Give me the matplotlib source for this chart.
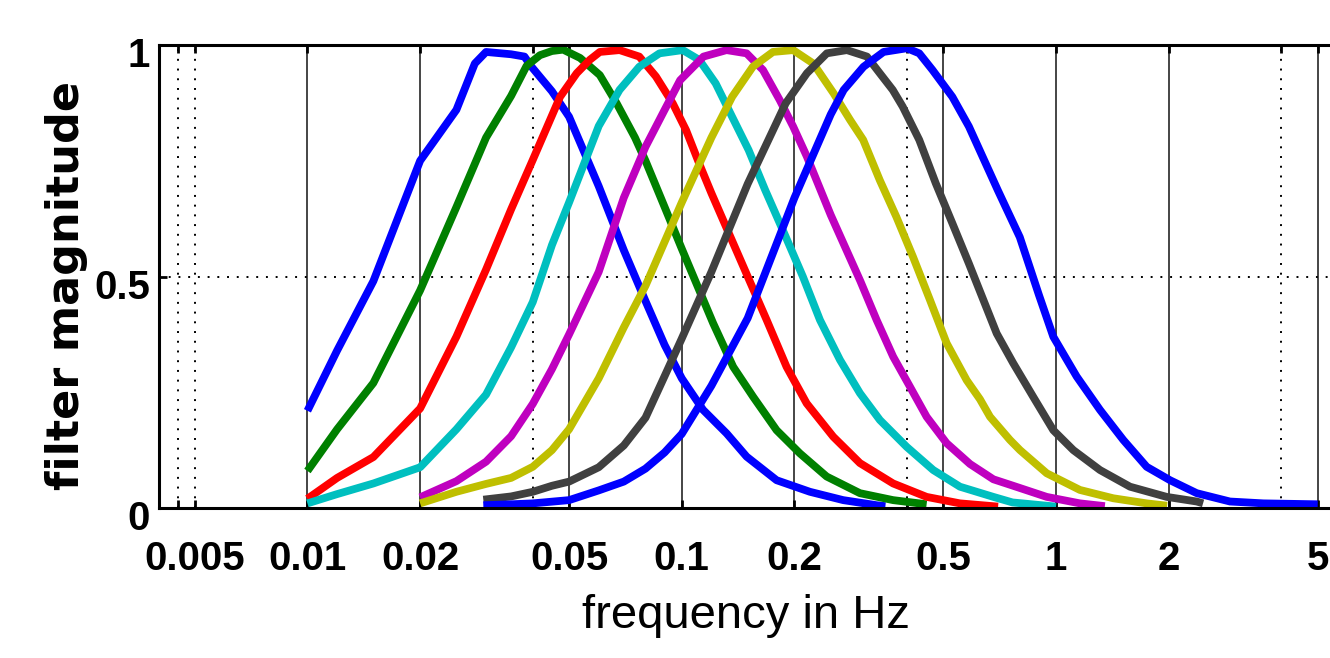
import matplotlib
matplotlib.use("Agg")
import matplotlib.pyplot as plt
from matplotlib.transforms import ScaledTranslation

# filter bank magnitudes
freq_b1 = [0.01, 0.012, 0.015, 0.02, 0.025, 0.028, 0.03, 0.035, 0.038, 0.0395, 0.045, 0.05,
           0.06, 0.07, 0.08, 0.09, 0.1, 0.114, 0.1318, 0.149, 0.1792, 0.22, 0.27, 0.3316, 0.35]
mag_b1 = [0.21, 0.34, 0.49, 0.75, 0.86, 0.96, 0.985, 0.98, 0.975, 0.955, 0.90, 0.845,
          0.695, 0.557, 0.447, 0.352, 0.28, 0.212, 0.161, 0.111, 0.06, 0.035, 0.017, 0.006, 0.004]

freq_g = [0.01, 0.012, 0.015, 0.02, 0.025, 0.03, 0.035, 0.0385, 0.0418, 0.045, 0.0482, 0.0535,
          0.0604, 0.067, 0.075, 0.08, 0.09, 0.1, 0.1213, 0.1372, 0.1552, 0.1792, 0.2068, 0.2438,
          0.2992, 0.367, 0.451]
mag_g = [0.08, 0.17, 0.27, 0.47, 0.65, 0.80, 0.89, 0.955, 0.978, 0.987, 0.99, 0.972,
         0.935, 0.874, 0.80, 0.75, 0.65, 0.56, 0.399, 0.305, 0.24, 0.168, 0.118, 0.068,
         0.032, 0.017, 0.008]

freq_r = [0.01, 0.012, 0.015, 0.02, 0.025, 0.03, 0.035, 0.04, 0.0473, 0.0524, 0.0568, 0.0604,
          0.0682, 0.077, 0.0853, 0.0946, 0.1027, 0.1113, 0.12, 0.15, 0.1686, 0.1905, 0.2156,
          0.2539, 0.2992, 0.367, 0.451, 0.5536, 0.7]
mag_r = [0.02, 0.065, 0.11, 0.215, 0.37, 0.515, 0.645, 0.752, 0.888, 0.939, 0.968, 0.985,
         0.989, 0.975, 0.932, 0.874, 0.816, 0.744, 0.68, 0.50, 0.406, 0.305, 0.226,
         0.154, 0.097, 0.053, 0.024, 0.01, 0.003]

freq_c = [0.01, 0.012, 0.015, 0.02, 0.025, 0.03, 0.035, 0.04, 0.045, 0.05, 0.06, 0.0682,
          0.077, 0.0872, 0.1006, 0.1113, 0.1232, 0.1363, 0.1509, 0.167, 0.1895, 0.2106, 0.234,
          0.2646, 0.2992, 0.3383, 0.399, 0.4697, 0.5536, 0.68, 0.765, 1.0]
mag_c = [0.01, 0.03, 0.053, 0.088, 0.17, 0.245, 0.347, 0.445, 0.568, 0.66, 0.825, 0.903,
         0.953, 0.982, 0.989, 0.968, 0.917, 0.845, 0.773, 0.687, 0.586, 0.50, 0.406,
         0.32, 0.248, 0.19, 0.132, 0.082, 0.046, 0.024, 0.012, 0.003]

freq_m = [0.02, 0.025, 0.03, 0.035, 0.04, 0.045, 0.05, 0.06, 0.07, 0.08, 0.09, 0.099,
          0.1143, 0.1317, 0.149, 0.1648, 0.1827, 0.1984, 0.2159, 0.25, 0.3, 0.3316, 0.367,
          0.407, 0.451, 0.51, 0.589, 0.68, 0.768, 0.944, 1.158, 1.35]
mag_m = [0.023, 0.058, 0.10, 0.155, 0.225, 0.30, 0.375, 0.51, 0.67, 0.78, 0.86, 0.924,
         0.975, 0.989, 0.982, 0.946, 0.881, 0.824, 0.759, 0.633, 0.49, 0.406, 0.327,
         0.262, 0.197, 0.14, 0.095, 0.062, 0.048, 0.024, 0.01, 0.004]

freq_y = [0.02, 0.025, 0.03, 0.035, 0.04, 0.045, 0.05, 0.06, 0.07, 0.08, 0.09, 0.1,
          0.12, 0.1363, 0.1548, 0.1752, 0.1984, 0.2246, 0.2543, 0.2817, 0.3053, 0.3381, 0.3743,
          0.4145, 0.46, 0.51, 0.577, 0.626, 0.666, 0.753, 0.801, 0.944, 1.158, 1.422, 1.746, 1.98]
mag_y = [0.01, 0.035, 0.052, 0.065, 0.089, 0.125, 0.17, 0.28, 0.39, 0.48, 0.575, 0.66,
         0.80, 0.888, 0.953, 0.985, 0.989, 0.96, 0.896, 0.838, 0.795, 0.708, 0.629,
         0.543, 0.45, 0.356, 0.276, 0.235, 0.197, 0.147, 0.125, 0.075, 0.039, 0.021, 0.01, 0.005]

freq_k = [0.0295, 0.035, 0.04, 0.045, 0.05, 0.06, 0.07, 0.08, 0.09, 0.1, 0.12, 0.15,
          0.1895, 0.2159, 0.2441, 0.2762, 0.3124, 0.3381, 0.3661, 0.3892, 0.431, 0.4772, 0.5283,
          0.5849, 0.694, 0.768, 0.869, 0.983, 1.112, 1.31, 1.576, 1.975, 2.376, 2.47]
mag_k = [0.018, 0.025, 0.035, 0.048, 0.057, 0.088, 0.135, 0.195, 0.285, 0.366, 0.51, 0.70,
         0.874, 0.939, 0.982, 0.989, 0.975, 0.939, 0.903, 0.867, 0.795, 0.701, 0.615,
         0.528, 0.377, 0.313, 0.24, 0.168, 0.125, 0.082, 0.046, 0.024, 0.014, 0.01]

freq_b2 = [0.0295, 0.035, 0.04, 0.05, 0.06, 0.07, 0.08, 0.09, 0.1, 0.12, 0.15, 0.2,
           0.25, 0.2708, 0.3059, 0.346, 0.3995, 0.431, 0.4676, 0.5283, 0.5849, 0.7,
           0.8, 0.9, 0.983, 1.135, 1.31, 1.512, 1.746, 2.016, 2.376, 2.915, 3.58, 5.0]
mag_b2 = [0.006, 0.008, 0.01, 0.017, 0.038, 0.057, 0.085, 0.12, 0.16, 0.264, 0.41, 0.67,
          0.85, 0.903, 0.953, 0.985, 0.993, 0.982, 0.946, 0.888, 0.824, 0.685,
          0.585, 0.46, 0.37, 0.284, 0.212, 0.147, 0.089, 0.06, 0.032, 0.014, 0.01, 0.008]

curves = [
    (freq_b1, mag_b1, (0, 0, 1)),
    (freq_g, mag_g, (0, 0.5, 0)),
    (freq_r, mag_r, (1, 0, 0)),
    (freq_c, mag_c, (0, 0.75, 0.75)),
    (freq_m, mag_m, (0.75, 0, 0.75)),
    (freq_y, mag_y, (0.75, 0.75, 0)),
    (freq_k, mag_k, (0.25, 0.25, 0.25)),
    (freq_b2, mag_b2, (0, 0, 1)),
]

solid_lines = [0.01, 0.02, 0.05, 0.1, 0.2, 0.5, 1, 2, 5]
dotted_lines = [0.0045, 0.005, 0.04, 0.4, 4]
xtick_vals = [0.005, 0.01, 0.02, 0.05, 0.1, 0.2, 0.5, 1, 2, 5]
xtick_text = ['0.005', '0.01', '0.02', '0.05', '0.1', '0.2', '0.5', '1', '2', '5']
ytick_vals = [0, 0.5, 1]
ytick_text = ['0', '0.5', '1']

sans = ['Liberation Sans', 'DejaVu Sans']

fig = plt.figure(figsize=(13.3, 6.58), dpi=100)
ax = fig.add_axes([158.5 / 1330, 150 / 658, (1333.2 - 158.5) / 1330, 463 / 658])

for xv in solid_lines:
    ax.axvline(xv, color=(0.15, 0.15, 0.15), lw=1.2, zorder=1)
for xv in dotted_lines:
    ax.axvline(xv, color='black', lw=1.4, ls=(0, (1, 4)), zorder=1)
ax.axhline(0.5, color='black', lw=1.4, ls=(0, (1, 4)), zorder=1)

for fr, mg, col in curves:
    ax.plot(fr, mg, color=col, lw=5.6, zorder=3, solid_capstyle='butt', solid_joinstyle='round')

ax.set_xscale('log')
ax.set_xlim(0.004, 5.5)
ax.set_ylim(0, 1)

ax.set_xticks(xtick_vals + [0.0045, 0.04, 0.4, 4])
ax.set_xticklabels(xtick_text + ['', '', '', ''])
ax.xaxis.set_minor_locator(matplotlib.ticker.NullLocator())
ax.set_yticks(ytick_vals)
ax.set_yticklabels(ytick_text)

ax.tick_params(axis='both', direction='in', length=6, width=2, top=True, right=False)
ax.tick_params(axis='x', pad=23)
ax.tick_params(axis='y', pad=6)
for lab in ax.get_xticklabels() + ax.get_yticklabels():
    lab.set_family(sans)
    lab.set_fontweight('bold')
    lab.set_fontsize(29)
for lab in ax.get_yticklabels():
    lab.set_transform(lab.get_transform() + ScaledTranslation(0, -0.07, fig.dpi_scale_trans))

for side in ['top', 'bottom', 'left', 'right']:
    ax.spines[side].set_linewidth(2.2)
    ax.spines[side].set_zorder(5)

ax.set_xlabel('frequency in Hz', family=sans, fontsize=34)
ax.xaxis.set_label_coords(0.5, -0.186)
ax.set_ylabel('filter magnitude', family=['DejaVu Sans'], fontweight='bold', fontsize=32)
ax.yaxis.set_label_coords(-0.060, 0.48)

fig.savefig('out.png', dpi=100)
